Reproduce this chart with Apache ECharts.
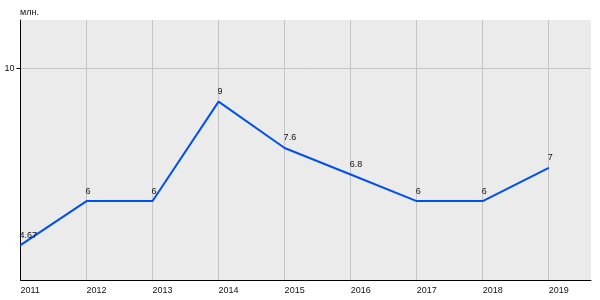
<!DOCTYPE html>
<html><head><meta charset="utf-8">
<script src="https://cdn.jsdelivr.net/npm/echarts@6/dist/echarts.min.js"></script>
<style>html,body{margin:0;padding:0;background:#fff}#c{width:600px;height:300px}</style>
</head><body><div id="c"></div>
<script>
const years = [2011, 2012, 2013, 2014, 2015, 2016, 2017, 2018, 2019];
const values = [4.67, 6, 6, 9, 7.6, 6.8, 6, 6, 7];
const yTicks = [10];
const unitLabel = 'млн.';

const chart = echarts.init(document.getElementById('c'), null, {renderer: 'canvas'});
const F = 'Liberation Sans, Arial, sans-serif';
chart.setOption({
  animation: false,
  backgroundColor: '#fff',
  grid: {left: 20.5, right: 9, top: 20, bottom: 20, show: true, backgroundColor: '#ebebeb', borderWidth: 0},
  graphic: [{type: 'text', left: 20, top: 8, style: {text: unitLabel, font: '9px ' + F, fill: '#111'}}],
  xAxis: {
    type: 'value', min: 2011, max: 2019.64, interval: 1,
    axisLine: {show: true, lineStyle: {color: '#000', width: 1}},
    axisTick: {show: false, customValues: years},
    axisLabel: {customValues: years, align: 'left', margin: 6, fontSize: 9, fontFamily: F, color: '#111', formatter: v => String(v)},
    splitLine: {show: true, lineStyle: {color: '#c4c4c4', width: 1}}
  },
  yAxis: {
    type: 'value', min: 3.62, max: 11.46,
    axisLine: {show: true, lineStyle: {color: '#000', width: 1}},
    axisTick: {show: true, length: 4, customValues: yTicks, lineStyle: {color: '#000'}},
    axisLabel: {customValues: yTicks, margin: 6, fontSize: 9, fontFamily: F, color: '#111'},
    splitLine: {show: true, lineStyle: {color: '#c4c4c4', width: 1}}
  },
  series: [{
    type: 'line',
    data: years.map((y, i) => [y, values[i]]),
    symbol: 'circle', symbolSize: 1, showSymbol: true,
    itemStyle: {color: '#0050ec'},
    lineStyle: {color: '#0050ec', width: 2},
    label: {show: true, position: 'top', align: 'left', offset: [-1, 0], fontSize: 9, fontFamily: F, color: '#111'}
  }]
});
</script></body></html>
